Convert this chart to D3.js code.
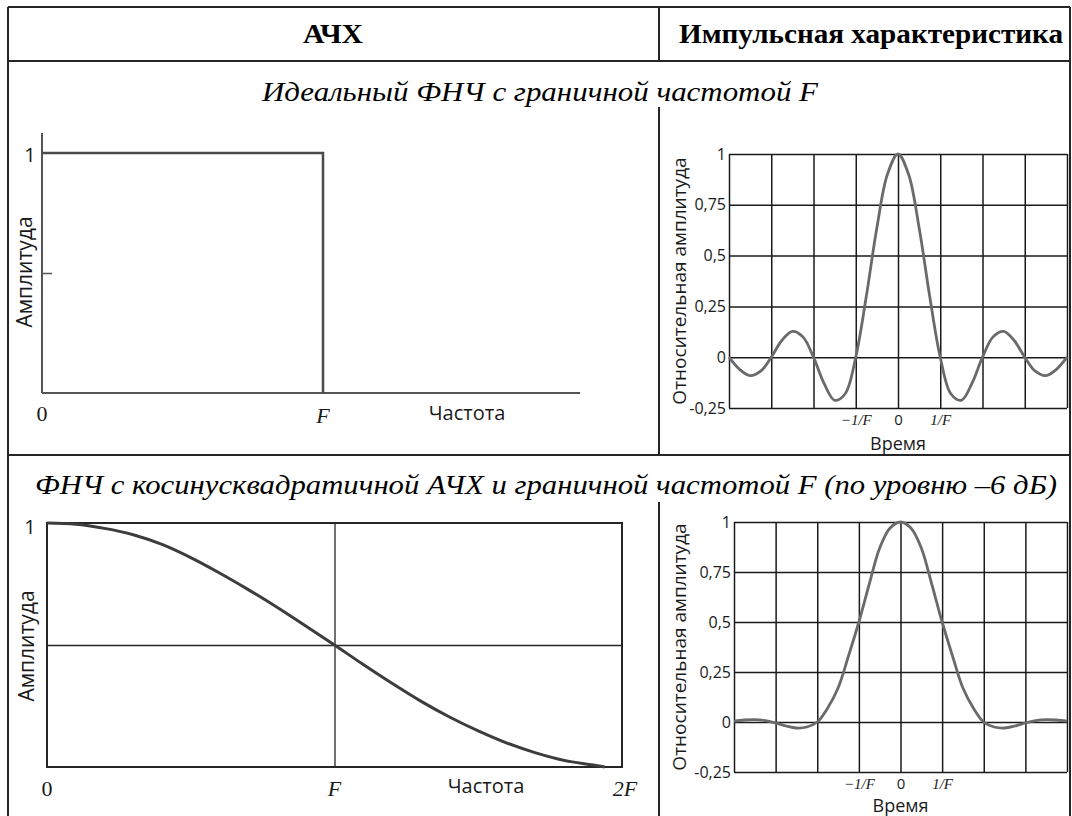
<!DOCTYPE html>
<html>
<head>
<meta charset="utf-8">
<script src="https://cdn.jsdelivr.net/npm/d3@7"></script>
<style>
  body { margin: 0; background: #fff; }
  svg { display: block; }
  .sans { font-family: "Open Sans", "Noto Sans", sans-serif; }
  .serif { font-family: "Liberation Serif", "DejaVu Serif", serif; }
</style>
</head>
<body>
<div id="chart"></div>
<script>

// table texts
var headers = ["АЧХ", "Импульсная характеристика"];
var rowTitles = ["Идеальный ФНЧ  с граничной частотой F",
                 "ФНЧ с косинусквадратичной АЧХ и граничной частотой F (по уровню –6 дБ)"];

// ideal LPF frequency response (in units of F)
var idealFreq = [0, 1, 1];
var idealAmp  = [1, 1, 0];

// cos^2 frequency response (in units of F)
var cosFreq = [0, 0.1, 0.2, 0.3, 0.4, 0.5, 0.6, 0.7, 0.8, 0.9, 1.0,
               1.1, 1.2, 1.3, 1.4, 1.5, 1.6, 1.7, 1.8, 1.9, 1.94];
var cosAmp  = [1, 0.995, 0.978, 0.952, 0.912, 0.858, 0.795, 0.727, 0.655, 0.578, 0.5,
               0.42, 0.343, 0.27, 0.205, 0.148, 0.098, 0.058, 0.027, 0.008, 0];

// impulse responses (time in units of 1/F)
var time = [-4, -3.75, -3.5, -3.25, -3, -2.75, -2.5, -2.25, -2, -1.75, -1.5, -1.25, -1, -0.75, -0.5, -0.25, 0,
            0.25, 0.5, 0.75, 1, 1.25, 1.5, 1.75, 2, 2.25, 2.5, 2.75, 3, 3.25, 3.5, 3.75, 4];
var sincAmp = [0, -0.06, -0.091, -0.069, 0, 0.082, 0.127, 0.1, 0, -0.129, -0.212, -0.18, 0, 0.3, 0.637, 0.9, 1,
               0.9, 0.637, 0.3, 0, -0.18, -0.212, -0.129, 0, 0.1, 0.127, 0.082, 0, -0.069, -0.091, -0.06, 0];
var rcAmp = [0.004, 0.01, 0.012, 0.007, -0.005, -0.02, -0.03, -0.025, 0, 0.07, 0.17, 0.33, 0.5, 0.69, 0.87, 0.97, 1,
             0.97, 0.87, 0.69, 0.5, 0.33, 0.17, 0.07, 0, -0.025, -0.03, -0.02, -0.005, 0.007, 0.012, 0.01, 0.004];

// grid ticks and labels of the impulse charts
var timeGrid = [-4, -3, -2, -1, 0, 1, 2, 3, 4];
var ampGrid = [-0.25, 0, 0.25, 0.5, 0.75, 1];
var ampLabels = ["-0,25", "0", "0,25", "0,5", "0,75", "1"];
var timeLabelValues = [-1, 0, 1];
var timeLabels = ["\u22121/F", "0", "1/F"];

var w = 1072;
var h = 816;
var ink = "#262626";

var svg = d3.select("#chart")
            .append("svg")
              .attr("width", w)
              .attr("height", h);

svg.append("rect").attr("width", w).attr("height", h).attr("fill", "#fff");

// ---- table frame ----
var frame = [
  [8, 7, 1070, 7], [8, 61, 1070, 61], [8, 455, 1070, 455],
  [8, 7, 8, 816], [1070, 7, 1070, 816],
  [659, 7, 659, 61], [659, 107, 659, 455], [659, 502, 659, 816]
];
svg.selectAll("line.frame")
   .data(frame)
   .enter()
   .append("line")
     .attr("class", "frame")
     .attr("x1", function(d) { return d[0]; })
     .attr("y1", function(d) { return d[1]; })
     .attr("x2", function(d) { return d[2]; })
     .attr("y2", function(d) { return d[3]; })
     .attr("stroke", ink)
     .attr("stroke-width", 2);

svg.append("text").attr("class", "serif")
   .attr("x", 333).attr("y", 43)
   .attr("text-anchor", "middle")
   .attr("font-size", 27).attr("font-weight", "bold")
   .attr("textLength", 60).attr("lengthAdjust", "spacingAndGlyphs")
   .text(headers[0]);
svg.append("text").attr("class", "serif")
   .attr("x", 871).attr("y", 43)
   .attr("text-anchor", "middle")
   .attr("font-size", 27).attr("font-weight", "bold")
   .attr("textLength", 384).attr("lengthAdjust", "spacingAndGlyphs")
   .text(headers[1]);

svg.append("text").attr("class", "serif")
   .attr("x", 540).attr("y", 101)
   .attr("text-anchor", "middle")
   .attr("font-size", 28).attr("font-style", "italic")
   .attr("textLength", 556).attr("lengthAdjust", "spacingAndGlyphs")
   .text(rowTitles[0]);
svg.append("text").attr("class", "serif")
   .attr("x", 546).attr("y", 494)
   .attr("text-anchor", "middle")
   .attr("font-size", 28).attr("font-style", "italic")
   .attr("textLength", 1022).attr("lengthAdjust", "spacingAndGlyphs")
   .text(rowTitles[1]);

function addText(x, y, txt, cls, size, opts) {
  opts = opts || {};
  var t = svg.append("text")
     .attr("class", cls)
     .attr("x", x).attr("y", y)
     .attr("text-anchor", opts.anchor || "middle")
     .attr("font-size", size)
     .attr("fill", "#1a1a1a")
     .text(txt);
  if (opts.italic) t.attr("font-style", "italic");
  if (opts.rotate) t.attr("transform", "rotate(-90," + x + "," + y + ")");
  return t;
}

// ---- panel 1: ideal LPF ----
var x1 = d3.scaleLinear().domain([0, 2]).range([42, 604]);
var y1 = d3.scaleLinear().domain([0, 1]).range([393, 153]);

var y1Axis = d3.axisRight(y1).tickValues([0.5]).tickSize(10).tickFormat("");
svg.append("g")
   .attr("transform", "translate(" + x1(0) + ",0)")
   .call(y1Axis)
   .call(function(g) {
     g.select(".domain").remove();
     g.selectAll("line").attr("stroke", "#555").attr("stroke-width", 1.5);
   });

svg.append("line")
   .attr("x1", x1(0)).attr("x2", x1(0))
   .attr("y1", y1(0)).attr("y2", y1(1.083))
   .attr("stroke", "#555").attr("stroke-width", 2);
svg.append("line")
   .attr("x1", x1(0)).attr("x2", x1(1.915))
   .attr("y1", y1(0)).attr("y2", y1(0))
   .attr("stroke", "#555").attr("stroke-width", 2);

var idealLine = d3.line()
   .x(function(d, i) { return x1(idealFreq[i]); })
   .y(function(d, i) { return y1(idealAmp[i]); });
svg.append("path")
   .attr("d", idealLine(idealFreq))
   .attr("fill", "none")
   .attr("stroke", "#4a4a4a")
   .attr("stroke-width", 2.5);

addText(30, 162, "1", "sans", 20);
addText(x1(0), 421, "0", "serif", 22);
addText(x1(1), 423, "F", "serif", 22, {italic: true});
addText(467, 420, "Частота", "sans", 20);
addText(32, 272, "Амплитуда", "sans", 21, {rotate: true});

// ---- panel 3: cos^2 LPF ----
var x3 = d3.scaleLinear().domain([0, 2]).range([47, 622]);
var y3 = d3.scaleLinear().domain([0, 1]).range([767, 523]);

svg.append("rect")
   .attr("x", x3(0)).attr("y", y3(1))
   .attr("width", x3(2) - x3(0)).attr("height", y3(0) - y3(1))
   .attr("fill", "none").attr("stroke", ink).attr("stroke-width", 2);

var x3Grid = d3.axisBottom(x3).tickValues([1]).tickSize(-(y3(0) - y3(1))).tickFormat("");
svg.append("g")
   .attr("transform", "translate(0," + y3(0) + ")")
   .call(x3Grid)
   .call(function(g) {
     g.select(".domain").remove();
     g.selectAll("line").attr("stroke", ink).attr("stroke-width", 1.3);
   });
var y3Grid = d3.axisLeft(y3).tickValues([0.5]).tickSize(-(x3(2) - x3(0))).tickFormat("");
svg.append("g")
   .attr("transform", "translate(" + x3(0) + ",0)")
   .call(y3Grid)
   .call(function(g) {
     g.select(".domain").remove();
     g.selectAll("line").attr("stroke", ink).attr("stroke-width", 1.3);
   });

var cosLine = d3.line()
   .curve(d3.curveMonotoneX)
   .x(function(d, i) { return x3(cosFreq[i]); })
   .y(function(d, i) { return y3(cosAmp[i]); });
svg.append("path")
   .attr("d", cosLine(cosFreq))
   .attr("fill", "none")
   .attr("stroke", "#3d3d3d")
   .attr("stroke-width", 3);

addText(30, 534, "1", "sans", 20);
addText(x3(0), 796, "0", "serif", 22);
addText(x3(1), 796, "F", "serif", 22, {italic: true});
addText(x3(2) + 3, 796, "2F", "serif", 22, {italic: true});
addText(486, 793, "Частота", "sans", 20);
addText(34, 646, "Амплитуда", "sans", 21, {rotate: true});

// ---- impulse response charts ----
function impulseChart(left, right, top, bottom, amp, labelY) {
  var x = d3.scaleLinear().domain([-4, 4]).range([left, right]);
  var y = d3.scaleLinear().domain([-0.25, 1]).range([bottom, top]);

  var xGrid = d3.axisBottom(x).tickValues(timeGrid).tickSize(-(bottom - top)).tickFormat("");
  svg.append("g")
     .attr("transform", "translate(0," + bottom + ")")
     .call(xGrid)
     .call(function(g) {
       g.select(".domain").remove();
       g.selectAll("line").attr("stroke", "#1a1a1a").attr("stroke-width", 1.5);
     });

  var yGrid = d3.axisLeft(y).tickValues(ampGrid).tickSize(-(right - left)).tickPadding(3)
     .tickFormat(function(d, i) { return ampLabels[i]; });
  svg.append("g")
     .attr("transform", "translate(" + left + ",0)")
     .call(yGrid)
     .call(function(g) {
       g.select(".domain").remove();
       g.selectAll("line").attr("stroke", "#1a1a1a").attr("stroke-width", 1.5);
       g.selectAll("text")
        .attr("class", "sans")
        .attr("font-size", 16)
        .attr("fill", "#1a1a1a");
     });

  var xLabels = d3.axisBottom(x).tickValues(timeLabelValues).tickSize(0).tickPadding(6)
     .tickFormat(function(d, i) { return timeLabels[i]; });
  svg.append("g")
     .attr("transform", "translate(0," + bottom + ")")
     .call(xLabels)
     .call(function(g) {
       g.select(".domain").remove();
       g.selectAll("text")
        .attr("class", function(d) { return d === 0 ? "sans" : "serif"; })
        .attr("font-style", function(d) { return d === 0 ? "normal" : "italic"; })
        .attr("font-size", 15)
        .attr("fill", "#1a1a1a");
     });

  var line = d3.line()
     .curve(d3.curveCatmullRom)
     .x(function(d, i) { return x(time[i]); })
     .y(function(d, i) { return y(amp[i]); });
  svg.append("path")
     .attr("d", line(time))
     .attr("fill", "none")
     .attr("stroke", "#6a6a6a")
     .attr("stroke-width", 2.8);

  addText(x(0), labelY, "Время", "sans", 18);
  addText(686, (top + bottom) / 2, "Относительная амплитуда", "sans", 19, {rotate: true});
}

impulseChart(729, 1067, 154, 408, sincAmp, 450);
impulseChart(734, 1067, 522, 772, rcAmp, 812);

</script>
</body>
</html>
